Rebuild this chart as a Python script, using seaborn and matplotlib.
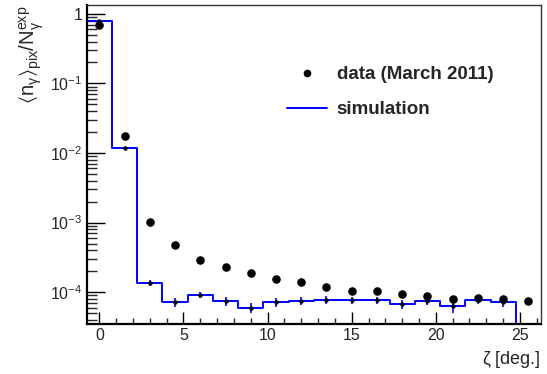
import numpy as np
import pandas as pd
import matplotlib
matplotlib.use("Agg")
import matplotlib.pyplot as plt
from matplotlib.lines import Line2D
from matplotlib.ticker import LogLocator, MultipleLocator, FixedLocator, NullFormatter
import seaborn as sns

# Angular bins (degrees), 1.5 deg wide, centred on the data points
zeta = [0.0, 1.5, 3.0, 4.5, 6.0, 7.5, 9.0, 10.5, 12.0, 13.5,
        15.0, 16.5, 18.0, 19.5, 21.0, 22.5, 24.0, 25.5]
bin_edges = [-0.75, 0.75, 2.25, 3.75, 5.25, 6.75, 8.25, 9.75, 11.25, 12.75,
             14.25, 15.75, 17.25, 18.75, 20.25, 21.75, 23.25, 24.75, 26.25]

# Measured photon yield per pixel (data, March 2011)
data_vals = [0.695, 0.0177, 1.02e-3, 4.69e-4, 2.92e-4, 2.29e-4, 1.90e-4, 1.56e-4,
             1.41e-4, 1.20e-4, 1.05e-4, 1.05e-4, 9.5e-5, 8.9e-5, 8.0e-5, 8.2e-5,
             8.0e-5, 7.5e-5]

# Simulated photon yield per pixel and its statistical uncertainty
sim_vals = [0.80, 0.0119, 1.36e-4, 7.2e-5, 9.2e-5, 7.4e-5, 6.0e-5, 7.2e-5,
            7.5e-5, 7.8e-5, 7.7e-5, 7.7e-5, 6.7e-5, 7.5e-5, 6.3e-5, 7.7e-5,
            7.3e-5, 0.0]
sim_errs = [0.005, 4e-4, 1.2e-5, 1.0e-5, 1.0e-5, 1.0e-5, 1.0e-5, 1.0e-5,
            1.0e-5, 1.0e-5, 9e-6, 9e-6, 1.0e-5, 1.0e-5, 1.3e-5, 1.0e-5,
            1.1e-5, 0.0]

df = pd.DataFrame({"zeta": zeta, "data": data_vals, "sim": sim_vals, "err": sim_errs})

sns.set_theme(style="ticks")
plt.rcParams["font.family"] = ["Liberation Sans", "DejaVu Sans"]
plt.rcParams["mathtext.fontset"] = "custom"
plt.rcParams["mathtext.rm"] = "Liberation Sans"
plt.rcParams["mathtext.it"] = "Liberation Sans"
plt.rcParams["mathtext.bf"] = "Liberation Sans:bold"
plt.rcParams["mathtext.fallback"] = "stixsans"

fig = plt.figure(figsize=(5.47, 3.74), dpi=100)
ax = fig.add_axes([0.1585, 0.134, 0.8305, 0.852])

# Simulation as a step histogram
sns.histplot(data=df, x="zeta", weights="sim", bins=bin_edges, element="step",
             fill=False, color="#0000ff", linewidth=1.4, ax=ax)

# Simulation uncertainties
mask = df["sim"] > 0
ax.errorbar(df.loc[mask, "zeta"], df.loc[mask, "sim"], yerr=df.loc[mask, "err"],
            fmt="none", ecolor="#0000ff", elinewidth=1.2, capsize=0, zorder=3)
ax.plot(df.loc[mask, "zeta"], df.loc[mask, "sim"], linestyle="none",
        marker="o", markersize=2.2, color="black", zorder=4)

# Data points
sns.scatterplot(data=df, x="zeta", y="data", color="black", s=38,
                edgecolor="black", linewidth=0, zorder=5, ax=ax)

ax.set_yscale("log")
ax.set_xlim(-0.75, 26.25)
ax.set_ylim(3.5e-5, 1.33)

# Axis ticks
ax.xaxis.set_major_locator(MultipleLocator(5))
ax.xaxis.set_minor_locator(MultipleLocator(1))
ax.yaxis.set_major_locator(FixedLocator([1e-4, 1e-3, 1e-2, 1e-1, 1]))
ax.yaxis.set_minor_locator(LogLocator(base=10, subs=np.arange(2, 10), numticks=20))
ax.yaxis.set_minor_formatter(NullFormatter())
ax.set_yticklabels([r"$10^{-4}$", r"$10^{-3}$", r"$10^{-2}$", r"$10^{-1}$", "1"])

ax.tick_params(axis="both", which="major", direction="in", labelsize=11.5,
               color="black", width=1.0, pad=3)
ax.tick_params(axis="x", which="major", length=9)
ax.tick_params(axis="x", which="minor", direction="in", length=4.5, width=1.0)
ax.tick_params(axis="y", which="major", length=13)
ax.tick_params(axis="y", which="minor", direction="in", length=7, width=1.0)
ax.tick_params(top=False, right=False, which="both")

for side in ["left", "bottom"]:
    ax.spines[side].set_linewidth(1.6)
    ax.spines[side].set_color("black")
for side in ["top", "right"]:
    ax.spines[side].set_visible(True)
    ax.spines[side].set_linewidth(1.0)
    ax.spines[side].set_color("#333333")

ax.set_xlabel(r"$\zeta$ [deg.]", fontsize=13, loc="right", labelpad=4)
ax.set_ylabel(r"$\langle\mathrm{n}_{\gamma}\rangle_{\mathrm{pix}}/\mathrm{N}_{\gamma}^{\mathrm{exp}}$",
              fontsize=14.5, loc="top")
ax.yaxis.set_label_coords(-0.09, 1.0)

handles = [
    Line2D([], [], linestyle="none", marker="o", markersize=4.5, color="black"),
    Line2D([], [], color="#0000ff", linewidth=1.4),
]
ax.legend(handles, ["data (March 2011)", "simulation"], loc="upper left",
          bbox_to_anchor=(287 / 547, 1 - 66 / 374), bbox_transform=fig.transFigure,
          frameon=False, borderpad=0, borderaxespad=0, handlelength=2.15,
          handletextpad=0.5, labelspacing=0.95,
          prop={"weight": "bold", "size": 13.5})

fig.savefig("out.png", dpi=100, facecolor="white")
